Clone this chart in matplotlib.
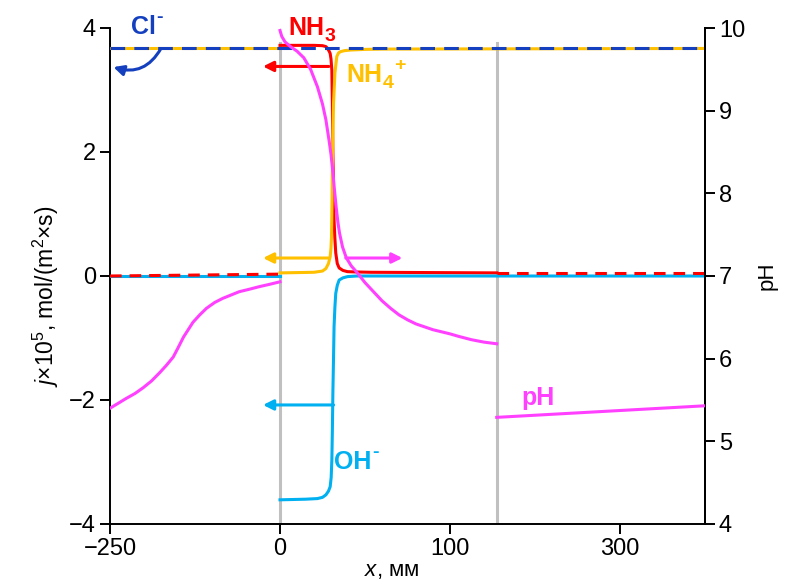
import numpy as np
import matplotlib
matplotlib.use("Agg")
import matplotlib.pyplot as plt

plt.rcParams['font.family'] = ['Liberation Sans', 'DejaVu Sans']
plt.rcParams['mathtext.fontset'] = 'custom'
plt.rcParams['mathtext.rm'] = 'Liberation Sans'
plt.rcParams['mathtext.it'] = 'Liberation Sans:italic'
plt.rcParams['mathtext.bf'] = 'Liberation Sans:bold'
plt.rcParams['axes.unicode_minus'] = True

# ---------------- data ----------------
x_ticks = [-250, 0, 100, 300]
x_tick_labels = ['\u2212250', '0', '100', '300']
x_lim = [-250, 400]
boundaries = [0, 155]

# left region (-250..0)
x_left = [-250, 0]
nh4_left = [3.67, 3.67]
nh3_left = [0.0, 0.03]
oh_left = [0.0, 0.0]

# Cl- across whole range
cl_x = [-250, 400]
cl_j = [3.67, 3.67]

# middle region
nh3_mid_x = [0, 20, 25, 27, 28, 29, 29.5, 30, 30.5, 30.8, 31.1, 31.5, 31.8, 32.3, 32.8, 33.7, 34.8, 37, 39.7, 45, 53.4, 155]
nh3_mid_j = [3.72, 3.72, 3.715, 3.70, 3.67, 3.62, 3.59, 3.50, 3.32, 2.80, 1.98, 1.35, 0.90, 0.60, 0.37, 0.20, 0.13, 0.09, 0.07, 0.065, 0.06, 0.05]

nh4_mid_x = [0, 20, 25, 27, 28.5, 29.5, 30.0, 30.3, 30.6, 30.9, 31.5, 32.3, 33.4, 34.5, 35.8, 38, 41.6, 50, 60, 400]
nh4_mid_j = [0.05, 0.06, 0.08, 0.12, 0.20, 0.31, 0.45, 0.63, 1.20, 1.98, 2.79, 3.27, 3.54, 3.60, 3.62, 3.635, 3.645, 3.655, 3.66, 3.67]

oh_mid_x = [0, 15, 22, 25, 27, 28.5, 29.5, 30.1, 30.5, 30.8, 31.1, 31.5, 31.8, 32.3, 32.8, 33.7, 34.8, 37, 39.7, 45, 400]
oh_mid_j = [-3.61, -3.60, -3.59, -3.57, -3.53, -3.47, -3.40, -3.25, -2.97, -2.50, -1.89, -1.30, -0.82, -0.50, -0.28, -0.15, -0.065, -0.03, -0.01, 0.0, 0.0]

# right region
nh3_right_x = [155, 400]
nh3_right_j = [0.05, 0.05]

# pH (right axis)
ph_left_x = [-250, -240, -226, -213, -201, -189, -177, -167, -157, -150, -142, -135, -128, -118, -108, -96, -84, -72, -60, -45, -31, -15, 0]
ph_left = [5.40, 5.45, 5.52, 5.58, 5.65, 5.73, 5.83, 5.92, 6.02, 6.13, 6.26, 6.35, 6.44, 6.53, 6.61, 6.68, 6.73, 6.77, 6.81, 6.84, 6.87, 6.90, 6.93]

ph_mid_x = [0, 1, 3, 6.5, 10, 14, 18, 22, 25, 27, 29, 30, 31, 32, 33, 34, 35, 36.8, 39, 42, 45, 50, 55, 60, 65, 70, 75, 80, 90, 100, 110, 125, 140, 155]
ph_mid = [9.97, 9.90, 9.83, 9.77, 9.72, 9.64, 9.50, 9.29, 9.08, 8.89, 8.62, 8.47, 8.28, 8.05, 7.84, 7.66, 7.52, 7.35, 7.22, 7.12, 7.05, 6.92, 6.81, 6.70, 6.61, 6.53, 6.47, 6.42, 6.35, 6.30, 6.27, 6.23, 6.20, 6.18]

ph_right_x = [155, 400]
ph_right = [5.29, 5.43]

# ---------------- colours ----------------
C_RED = '#ff0000'
C_ORA = '#ffc000'
C_BLU = '#1440c0'
C_CYA = '#00b0f0'
C_MAG = '#ff40ff'
C_GRY = '#c0c0c0'


def fwd(x):
    x = np.asarray(x, dtype=float)
    return np.where(x < 0, (x + 250) / 250.0,
                    np.where(x < 100, 1 + x / 100.0, 2 + (x - 100) / 200.0))


def inv(p):
    p = np.asarray(p, dtype=float)
    return np.where(p < 1, p * 250.0 - 250,
                    np.where(p < 2, (p - 1) * 100.0, 100 + (p - 2) * 200.0))


fig = plt.figure(figsize=(7.87, 5.81), dpi=100)
ax = fig.add_axes([110 / 787, 1 - 524 / 581, (705 - 110) / 787, (524 - 28) / 581])
ax.set_xscale('function', functions=(fwd, inv))
ax.set_xlim(*x_lim)
ax.set_ylim(-4, 4)

LW = 2.2
dash_red = (3.8, 2.6)
dash_blue = (4.8, 3.0)

for b in boundaries:
    ax.axvline(b, ymin=0, ymax=0.97, color=C_GRY, lw=2.2, zorder=1)

# left region
ax.plot(x_left, nh4_left, color=C_ORA, lw=LW, zorder=3)
ax.plot(x_left, oh_left, color=C_CYA, lw=LW, zorder=3)
ax.plot(x_left, nh3_left, color=C_RED, lw=LW, dashes=dash_red, zorder=4)

# middle / right
ax.plot(nh3_mid_x, nh3_mid_j, color=C_RED, lw=LW, zorder=3, solid_joinstyle='round')
ax.plot(nh4_mid_x, nh4_mid_j, color=C_ORA, lw=LW, zorder=3, solid_joinstyle='round')
ax.plot(oh_mid_x, oh_mid_j, color=C_CYA, lw=LW, zorder=3, solid_joinstyle='round')
ax.plot(nh3_right_x, nh3_right_j, color=C_RED, lw=LW, dashes=dash_red, zorder=4)
ax.plot(cl_x, cl_j, color=C_BLU, lw=LW, dashes=dash_blue, zorder=5)

# arrows
def arrow(x0, x1, y, c):
    ax.annotate('', xy=(x1, y), xytext=(x0, y),
                arrowprops=dict(arrowstyle='-|>,head_length=0.6,head_width=0.3',
                                color=c, lw=LW, shrinkA=0, shrinkB=0), zorder=6)

arrow(28.7, -25, 3.38, C_RED)
arrow(28.5, -25, 0.29, C_ORA)
arrow(31.5, -25, -2.08, C_CYA)
arrow(38.7, 72, 0.29, C_MAG)
ax.annotate('', xy=(-245, 3.37), xytext=(-175, 3.67),
            arrowprops=dict(arrowstyle='-|>,head_length=0.6,head_width=0.3',
                            color=C_BLU, lw=LW, shrinkA=0, shrinkB=0,
                            connectionstyle='arc3,rad=-0.4'), zorder=6)

FS_LAB = 18
FS_SUB = 14


def chem_label(a, x, y, base, color, sub=None, sup=None):
    t = a.text(x, y, base, color=color, fontsize=FS_LAB, fontweight='bold',
               ha='left', va='center', clip_on=False)
    last = t
    if sub is not None:
        last = a.annotate(sub, xy=(1, 0.15), xycoords=t, xytext=(0.3, 0),
                          textcoords='offset points', color=color,
                          fontsize=FS_SUB, fontweight='bold', ha='left', va='center')
    if sup is not None:
        a.annotate(sup, xy=(1, 0.9), xycoords=(last, t), xytext=(0.3, 0),
                   textcoords='offset points', color=color,
                   fontsize=FS_SUB, fontweight='bold', ha='left', va='center')
    return t


chem_label(ax, -219, 4.02, 'Cl', C_BLU, sup='-')
chem_label(ax, 5, 4.0, 'NH', C_RED, sub='3')
chem_label(ax, 39, 3.24, 'NH', C_ORA, sub='4', sup='+')
chem_label(ax, 32, -3.0, 'OH', C_CYA, sup='-')

ax.set_xticks(x_ticks)
ax.set_xticklabels(x_tick_labels)
ax.set_yticks([-4, -2, 0, 2, 4])
ax.xaxis.set_minor_locator(matplotlib.ticker.NullLocator())

ax.set_xlabel(r'$\mathit{x}$, мм', fontsize=16, labelpad=0, x=0.474)
ax.set_ylabel(r'$\mathit{j}$×10$^5$, mol/(m$^2$×s)', fontsize=16.5, labelpad=6, y=0.46)

ax2 = ax.twinx()
ax2.set_ylim(4, 10)
ax2.set_yticks([4, 5, 6, 7, 8, 9, 10])
ax2.plot(ph_left_x, ph_left, color=C_MAG, lw=LW, zorder=3)
ax2.plot(ph_mid_x, ph_mid, color=C_MAG, lw=LW, zorder=3)
ax2.plot(ph_right_x, ph_right, color=C_MAG, lw=LW, zorder=3)
ax2.text(204, 5.52, 'pH', color=C_MAG, fontsize=FS_LAB, fontweight='bold',
         ha='center', va='center')
ax2.set_ylabel('pH', fontsize=16, labelpad=8)

for a in (ax, ax2):
    a.spines['top'].set_visible(False)
    for s in a.spines.values():
        s.set_linewidth(1.4)
    a.tick_params(axis='both', which='major', labelsize=17, length=7, width=1.4,
                  direction='out', pad=3)
    a.tick_params(which='minor', length=0)
ax2.spines['left'].set_visible(False)
ax2.spines['bottom'].set_visible(False)

fig.savefig('out.png', dpi=100)
